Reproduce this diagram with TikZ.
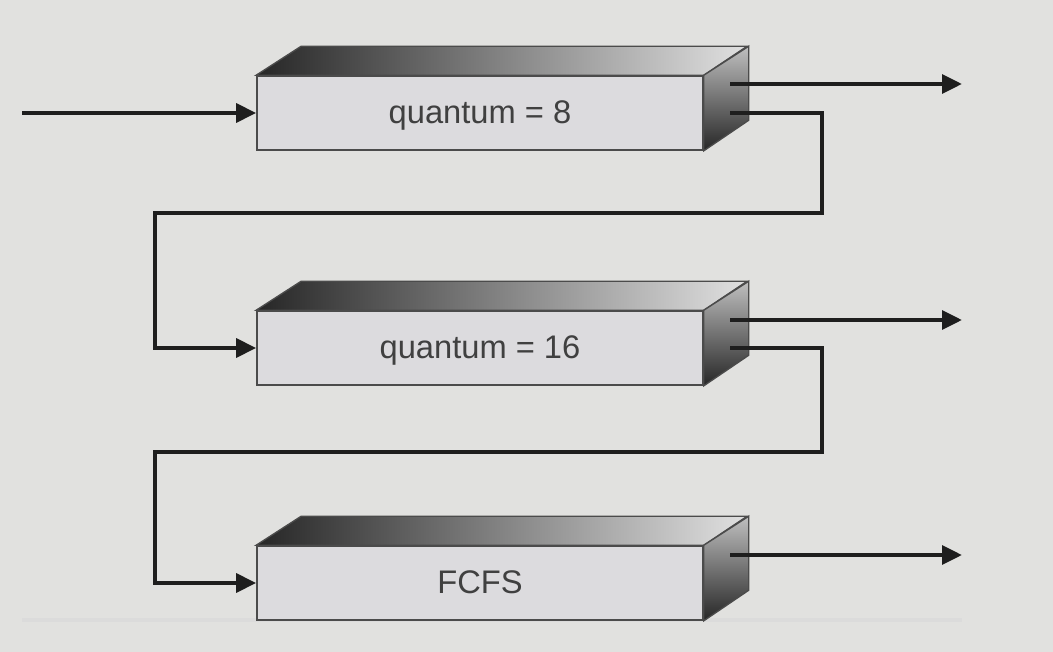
\documentclass[tikz,border=0pt]{standalone}
\usepackage{fontspec}
\setmainfont{Liberation Sans}
\usetikzlibrary{arrows.meta}
\definecolor{bg}{HTML}{E1E1DF}
\definecolor{face}{HTML}{DCDBDE}
\definecolor{ink}{HTML}{1E1E1E}
\begin{document}
\begin{tikzpicture}[x=0.75pt,y=-0.75pt,
  frontbox/.style={draw=ink!80,line width=1.2pt,fill=face,minimum width=334.5pt,minimum height=55.5pt,inner sep=0pt,font=\fontsize{24.5}{27}\selectfont,text=ink!85},
  conn/.style={draw=ink,line width=3pt},
  arr/.style={conn,-{Triangle[length=15pt,width=14pt]}}]
\fill[bg] (0,0) rectangle (1053,652);
\useasboundingbox (0,0) rectangle (1053,652);
\draw[line width=3pt,color=black!14] (22,620) -- (962,620);
% boxes
\foreach \n/\y/\t in {b1/113/{quantum = 8},b2/348/{quantum = 16},b3/583/{FCFS}}{
  \node[frontbox] (\n) at (480,\y) {\raisebox{-8pt}[0pt][0pt]{\t}};
  \shade[left color=black!85,right color=black!12,draw=ink!80,line width=1pt]
    (\n.north west) -- ++(45,-29) -- ++(446,0) -- (\n.north east) -- cycle;
  \shade[top color=black!25,bottom color=black!85,draw=ink!80,line width=1pt]
    (\n.north east) -- ++(45,-29) -- ++(0,74) -- (\n.south east) -- cycle;
}
% coordinates
\coordinate (in) at (22,113);
\coordinate (o1) at (730,84);   \coordinate (e1) at (962,84);
\coordinate (f1) at (730,113);
\coordinate (o2) at (730,320);  \coordinate (e2) at (962,320);
\coordinate (f2) at (730,348);
\coordinate (o3) at (730,555);  \coordinate (e3) at (962,555);
% connectors
\draw[arr] (in) -- (b1.west);
\draw[arr] (o1) -- (e1);
\draw[arr] (o2) -- (e2);
\draw[arr] (o3) -- (e3);
\draw[arr] (f1) -- (822,113) -- (822,213) -- (155,213) -- (155,348) -- (b2.west);
\draw[arr] (f2) -- (822,348) -- (822,452) -- (155,452) -- (155,583) -- (b3.west);
\end{tikzpicture}
\end{document}
